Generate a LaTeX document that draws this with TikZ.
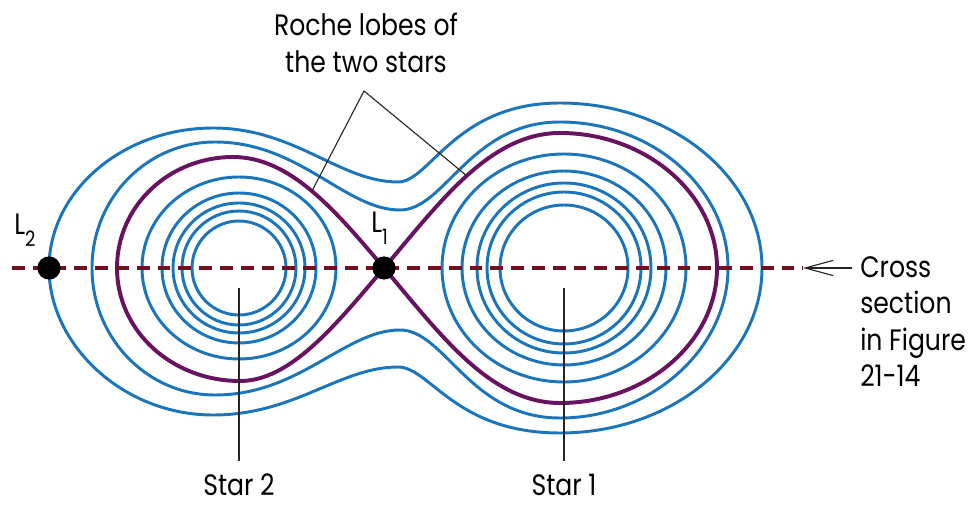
\documentclass[tikz,border=0pt]{standalone}
\usepackage{fontspec}
\setmainfont{Poppins}[FakeStretch=0.85]
\usepackage{tikz}
\usetikzlibrary{arrows.meta}
\definecolor{contourblue}{RGB}{27,117,187}
\definecolor{lobepurple}{RGB}{104,18,96}
\definecolor{axisred}{RGB}{112,16,32}
\newcommand\lagsub[1]{\raisebox{-8pt}{\fontsize{15}{15}\selectfont #1}}

\begin{document}
\begin{tikzpicture}[
  x=0.25mm, y=-0.25mm,
  contour/.style={draw=contourblue, line width=2.1pt},
  lobe/.style={draw=lobepurple, line width=2.8pt},
  crosscut/.style={draw=axisred, line width=2.2pt, dash pattern=on 3.2mm off 2mm},
  leader/.style={draw=black!85, line width=0.8pt},
  lagrange/.style={circle, fill=black, inner sep=0pt, minimum size=5.8mm},
  txt/.style={font=\fontsize{21}{26}\selectfont, inner sep=0pt},
  >={Straight Barb[length=7mm,width=3.8mm]}]
\useasboundingbox (0,0) rectangle (980,507);

\coordinate (star2c) at (239,268);
\coordinate (star1c) at (564,268);
\coordinate (l2pt) at (49,268);
\coordinate (l1pt) at (384,268);

% equipotentials around each star
\foreach \rx/\ry in {47/47,57/57,66/65,77/75,97/91}
  \draw[contour] (star2c) ellipse[x radius=\rx, y radius=\ry];
\foreach \rx/\ry in {64/63,77/76,87/85,102/97,122/114}
  \draw[contour] (star1c) ellipse[x radius=\rx, y radius=\ry];

% common envelopes
\draw[contour] (92,268) .. controls (92,198) and (147,142) .. (215,142)
  .. controls (300,142) and (345,210) .. (400,210)
  .. controls (445,210) and (470,122) .. (560,122)
  .. controls (652,122) and (728,188) .. (728,268)
  .. controls (728,348) and (652,418) .. (560,418)
  .. controls (470,418) and (445,330) .. (400,330)
  .. controls (345,330) and (300,395) .. (215,395)
  .. controls (147,395) and (92,338) .. cycle;
\draw[contour] (l2pt) .. controls (49,191) and (123,128) .. (213,128)
  .. controls (295,128) and (340,182) .. (398,182)
  .. controls (430,182) and (455,103) .. (560,103)
  .. controls (671,103) and (762,177) .. (762,268)
  .. controls (762,359) and (671,433) .. (560,433)
  .. controls (455,433) and (430,367) .. (398,367)
  .. controls (340,367) and (295,415) .. (213,415)
  .. controls (123,415) and (49,345) .. cycle;

% Roche lobes
\draw[lobe] (l1pt) .. controls (335,210) and (290,157) .. (233,157)
  .. controls (170,157) and (117,205) .. (117,268)
  .. controls (117,331) and (172,381) .. (240,381)
  .. controls (290,381) and (335,326) .. (l1pt);
\draw[lobe] (l1pt) .. controls (440,202) and (490,133) .. (560,133)
  .. controls (646,133) and (717,194) .. (717,268)
  .. controls (717,342) and (646,403) .. (560,403)
  .. controls (490,403) and (440,334) .. (l1pt);

\coordinate (axstart) at (12,268);
\coordinate (axend) at (803,268);
\draw[crosscut] (axstart) -- (axend);

\node[lagrange] (l2) at (l2pt) {};
\node[lagrange] (l1) at (l1pt) {};
\node[txt, anchor=base west] (ltwo) at (14,235) {L\lagsub{2}};
\node[txt, anchor=base west] (lone) at (371,233) {L\lagsub{1}};

\node[txt, align=center, anchor=north] (roche) at (366,13) {Roche lobes of\\the two stars};
\coordinate (apex) at (364,91);
\coordinate (lobe2pt) at (312,191);
\coordinate (lobe1pt) at (467,176);
\draw[leader] (lobe2pt) -- (apex) -- (lobe1pt);

\node[txt, anchor=base] (star2) at (239,495) {Star 2};
\node[txt, anchor=base] (star1) at (564,495) {Star 1};
\coordinate (star2tip) at (239,288);
\coordinate (star1tip) at (564,288);
\draw[leader, shorten >=3mm] (star2tip) -- (star2.north);
\draw[leader, shorten >=3mm] (star1tip) -- (star1.north);

\node[txt, align=left, anchor=north west] (cross) at (860,256) {Cross\\section\\in Figure\\21-14};
\draw[leader, ->, shorten <=2mm] (axend -| cross.west) -- (axend);
\end{tikzpicture}
\end{document}
